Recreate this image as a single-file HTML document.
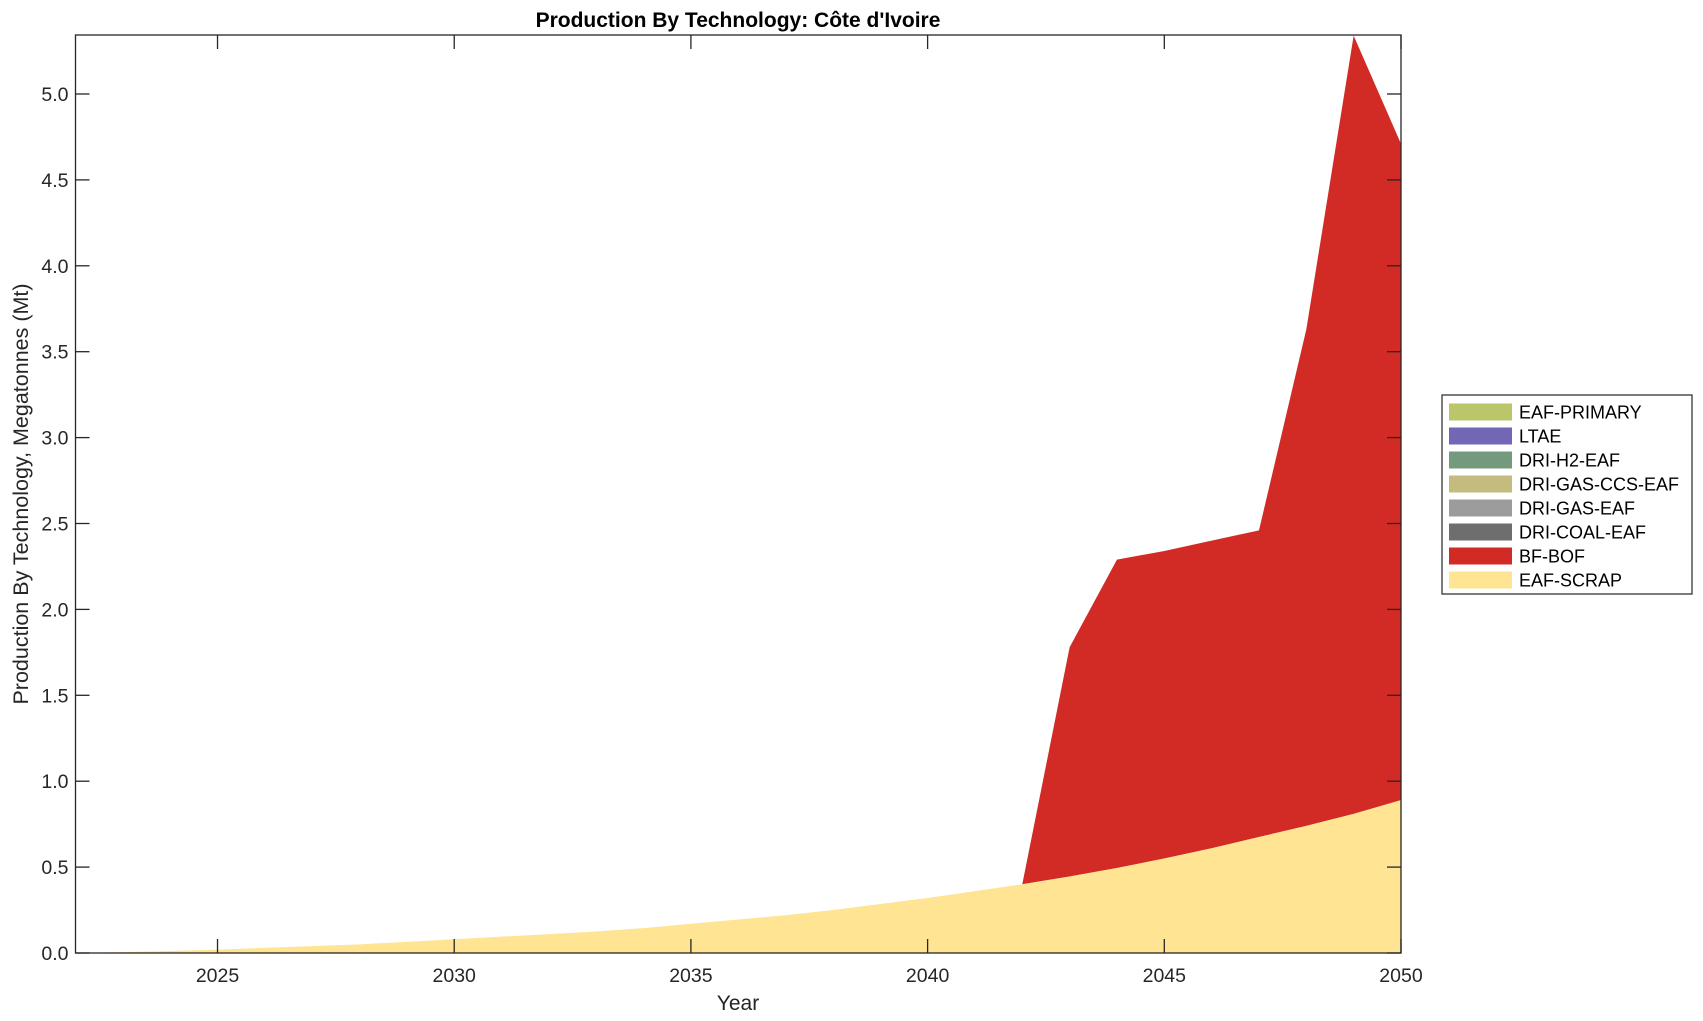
<!DOCTYPE html>
<html><head><meta charset="utf-8"><style>
body{margin:0;background:#fff;}
svg{display:block;font-family:"Liberation Sans",Arial,sans-serif;}
</style></head><body>
<svg id="s" width="1703" height="1021" xmlns="http://www.w3.org/2000/svg">
<rect width="1703" height="1021" fill="#fff"/>
<g id="areas"></g>
<g id="axes" stroke="#262626" stroke-width="1.3" fill="none"></g>
<g id="labels" fill="#262626" font-size="19.5"></g>
<text x="738" y="27" text-anchor="middle" font-size="21" font-weight="bold" fill="#000">Production By Technology: Côte d'Ivoire</text>
<text x="738" y="1010" text-anchor="middle" font-size="21" fill="#262626">Year</text>
<text transform="translate(28,494) rotate(-90)" text-anchor="middle" font-size="21.5" fill="#262626">Production By Technology, Megatonnes (Mt)</text>
<g id="legend"></g>
</svg>
<script>
const L=75.5,R=1401,T=35,B=953;
const X=y=>L+(y-2022)*(R-L)/28, Y=v=>B-v*171.8;
const scrap=[0,0.005,0.012,0.02,0.03,0.04,0.05,0.065,0.08,0.095,0.11,0.125,0.145,0.17,0.195,0.22,0.25,0.285,0.32,0.36,0.40,0.445,0.495,0.55,0.61,0.675,0.74,0.81,0.89];
const tot={2042:0.40,2043:1.78,2044:2.29,2045:2.34,2046:2.40,2047:2.46,2048:3.63,2049:5.34,2050:4.71};
let ns="http://www.w3.org/2000/svg";
function el(p,t,a,txt){const e=document.createElementNS(ns,t);for(const k in a)e.setAttribute(k,a[k]);if(txt!==undefined)e.textContent=txt;p.appendChild(e);return e;}
const A=document.getElementById('areas');
let d="M"+X(2042)+","+Y(tot[2042]);
for(let y=2043;y<=2050;y++)d+=" L"+X(y)+","+Y(tot[y]);
for(let y=2050;y>=2042;y--)d+=" L"+X(y)+","+Y(scrap[y-2022]);
el(A,'path',{d:d+"Z",fill:"#d22b25"});
d="M"+X(2022)+","+B;
for(let y=2022;y<=2050;y++)d+=" L"+X(y)+","+Y(scrap[y-2022]);
d+=" L"+X(2050)+","+B+"Z";
el(A,'path',{d:d,fill:"#fee493"});
const ax=document.getElementById('axes');
el(ax,'rect',{x:L,y:T,width:R-L,height:B-T});
const lb=document.getElementById('labels');
for(let i=0;i<=10;i++){const v=i*0.5,yy=Y(v);
 el(ax,'line',{x1:L,y1:yy,x2:L+14,y2:yy});el(ax,'line',{x1:R,y1:yy,x2:R-14,y2:yy});
 el(lb,'text',{x:L-7,y:yy+7,'text-anchor':'end'},v.toFixed(1));}
for(let y=2025;y<=2050;y+=5){const xx=X(y);
 el(ax,'line',{x1:xx,y1:B,x2:xx,y2:B-14});el(ax,'line',{x1:xx,y1:T,x2:xx,y2:T+14});
 el(lb,'text',{x:xx,y:B+29,'text-anchor':'middle'},y);}
const lg=document.getElementById('legend');
el(lg,'rect',{x:1442,y:395,width:250,height:199,fill:"#fff",stroke:"#262626","stroke-width":1.2});
const items=[["EAF-PRIMARY","#bbc66a"],["LTAE","#7266b6"],["DRI-H2-EAF","#739a7d"],["DRI-GAS-CCS-EAF","#c4bc7e"],["DRI-GAS-EAF","#9c9c9c"],["DRI-COAL-EAF","#6e6e6e"],["BF-BOF","#d22b25"],["EAF-SCRAP","#fee493"]];
items.forEach((it,i)=>{const yc=412+i*24;
 el(lg,'rect',{x:1449,y:yc-8.5,width:63,height:17,fill:it[1]});
 el(lg,'text',{x:1519,y:yc+6.5,'font-size':18,fill:"#000"},it[0]);});
</script>
</body></html>
